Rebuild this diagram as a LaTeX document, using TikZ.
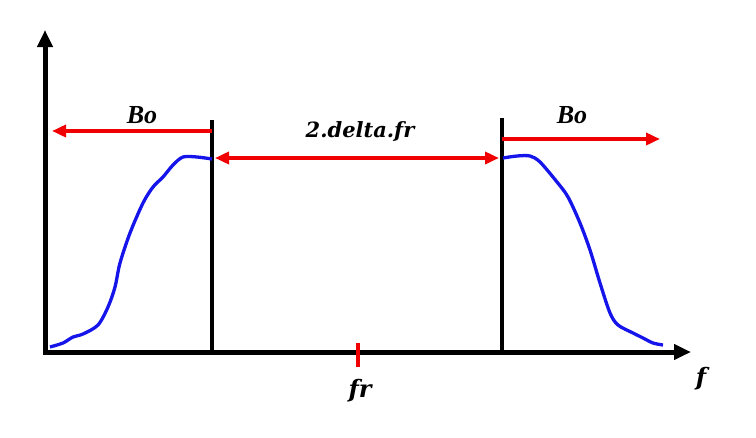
\documentclass[tikz,border=0pt]{standalone}
\usepackage{fontspec}
\setmainfont{Liberation Serif}
\newfontfamily\widefont{DejaVu Serif}
\usetikzlibrary{arrows.meta}
\definecolor{curveblue}{RGB}{20,20,235}
\definecolor{markred}{RGB}{240,0,0}
\tikzset{
  axis/.style={line width=5pt,-{Triangle[length=17pt,width=15pt]}},
  wall/.style={line width=3.4pt},
  span/.style={markred,line width=4pt,-{Triangle[length=14pt,width=12pt]}},
  bispan/.style={markred,line width=4pt,{Triangle[length=14pt,width=12pt]}-{Triangle[length=14pt,width=12pt]}},
  lab/.style={font=\fontsize{26}{30}\selectfont\bfseries\itshape,inner sep=0pt,anchor=base},
  widelab/.style={font=\widefont\fontsize{#1}{26}\selectfont\bfseries\itshape,inner sep=0pt,anchor=base},
  widelab/.default=21,
  curve/.style={curveblue,line width=3.3pt,line join=round}
}
\begin{document}
\begin{tikzpicture}[x=1pt,y=-1pt]
\useasboundingbox (0,0) rectangle (756,437);

% axes
\coordinate (o) at (43,352);
\coordinate (ytop) at (45,30);
\coordinate (xend) at (691,352);
\draw[axis] (45,354) -- (ytop);
\draw[axis] (o) -- (xend);

% band edges
\coordinate (lwtop) at (212,120);
\coordinate (lwbot) at (212,352);
\coordinate (rwtop) at (502,118);
\coordinate (rwbot) at (502,352);
\draw[wall] (lwtop) -- (lwbot);
\draw[wall] (rwtop) -- (rwbot);

% spans
\coordinate (la) at (212,131);
\coordinate (lb) at (52,131);
\draw[span] (la) -- (lb);
\coordinate (ra) at (502,139);
\coordinate (rb) at (660,139);
\draw[span] (ra) -- (rb);
\coordinate (ma) at (215,158);
\coordinate (mb) at (499,158);
\draw[bispan] (ma) -- (mb);

\node[lab] (boleft) at (142,123) {Bo};
\node[lab] (boright) at (572,123) {Bo};
\node[widelab] (delta) at (360,137) {2.delta.fr};

% centre tick
\coordinate (ta) at (358,343);
\coordinate (tb) at (358,367);
\draw[markred,line width=4pt] (ta) -- (tb);
\node[widelab=24] (fr) at (360,397) {fr};
\node[widelab=24] (f) at (701,385) {f};

% filter flanks
\draw[curve] plot[smooth,tension=.5] coordinates {(50,347) (63,343) (73,337) (83,334) (98,325) (108,307) (115,287) (120,263) (130,233) (143,203) (153,187) (163,177) (173,165) (183,157) (197,157) (212,159)};
\draw[curve] plot[smooth,tension=.5] coordinates {(503,158) (517,156) (530,156) (540,162) (557,182) (568,197) (580,223) (590,250) (600,283) (610,313) (618,325) (633,333) (643,338) (653,343) (663,345)};
\end{tikzpicture}
\end{document}
